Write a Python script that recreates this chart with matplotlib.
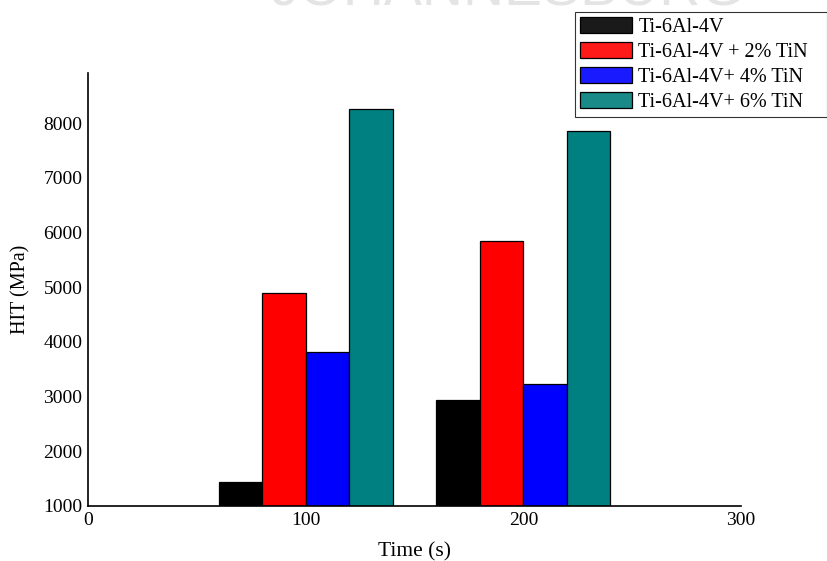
import matplotlib
matplotlib.use("Agg")
import matplotlib.pyplot as plt
from matplotlib.patches import Patch
import numpy as np

# Indentation time groups (s) and hardness values (MPa)
times = [100, 200]
series = ["Ti-6Al-4V", "Ti-6Al-4V + 2% TiN", "Ti-6Al-4V+ 4% TiN", "Ti-6Al-4V+ 6% TiN"]
hit_base = [1440, 2930]
hit_2tin = [4900, 5850]
hit_4tin = [3810, 3230]
hit_6tin = [8260, 7860]
values = [hit_base, hit_2tin, hit_4tin, hit_6tin]

bar_colors = ["#000000", "#ff0000", "#0000ff", "#008080"]
legend_colors = ["#1a1a1a", "#ff1a1a", "#1a1aff", "#1a8a88"]

xticks = [0, 100, 200, 300]
yticks = [1000, 2000, 3000, 4000, 5000, 6000, 7000, 8000]

plt.rcParams["font.family"] = ["Liberation Serif", "DejaVu Serif"]

fig = plt.figure(figsize=(8.28, 5.61), dpi=100)
ax = fig.add_axes([88 / 828, 1 - 506 / 561, (741 - 88) / 828, (506 - 73) / 561])

bar_w = 20
offsets = np.array([-1.5, -0.5, 0.5, 1.5]) * bar_w
for i, (vals, col) in enumerate(zip(values, bar_colors)):
    x = np.array(times) + offsets[i]
    ax.bar(x, np.array(vals) - 1000, bottom=1000, width=bar_w,
           color=col, edgecolor="black", linewidth=0.9, zorder=2)

ax.set_xlim(0, 300)
ax.set_ylim(1000, 8920)
ax.set_xticks(xticks)
ax.set_yticks(yticks)
ax.tick_params(length=0, labelsize=14, pad=4)
for s in ["top", "right"]:
    ax.spines[s].set_visible(False)
for s in ["left", "bottom"]:
    ax.spines[s].set_linewidth(1.2)

ax.set_xlabel("Time (s)", fontsize=15.5, labelpad=10)
ax.set_ylabel("HIT (MPa)", fontsize=14.5, labelpad=9)

handles = [Patch(facecolor=c, edgecolor="black", linewidth=0.9) for c in legend_colors]
leg = fig.legend(handles, series, loc="upper left",
                 bbox_to_anchor=(575 / 828, 1 - 118 / 561, 252 / 828, 106 / 561),
                 mode="expand", fontsize=14.5, frameon=True, fancybox=False,
                 edgecolor="black", handlelength=2.6, handleheight=0.85,
                 handletextpad=0.3, labelspacing=0.25, borderpad=0.25,
                 borderaxespad=0)
leg.get_frame().set_linewidth(0.8)

# Faint institutional watermark across the top edge
fig.text(270 / 828, 1 - 5 / 561, "JOHANNESBURG", fontsize=41, color="#e4e4e4",
         family="Liberation Sans", va="baseline", ha="left", zorder=0)

fig.savefig("out.png", dpi=100)
